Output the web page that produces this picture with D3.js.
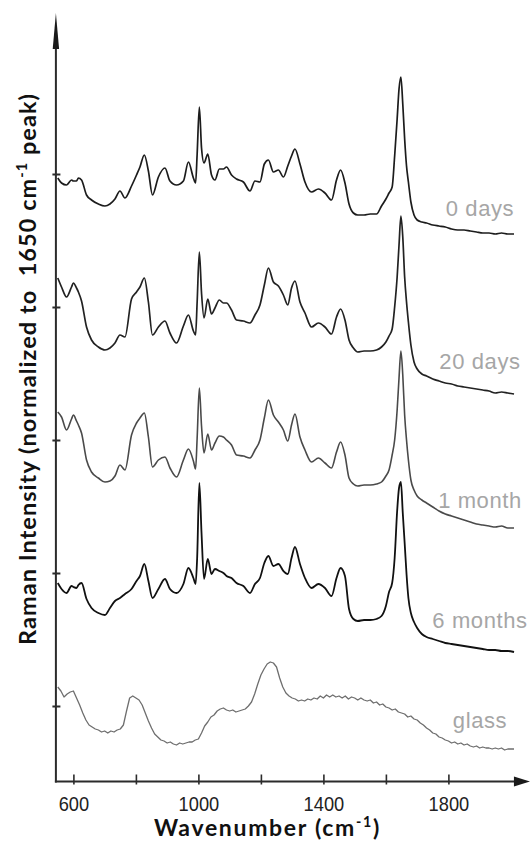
<!DOCTYPE html>
<html>
<head>
<meta charset="utf-8">
<script src="https://cdn.jsdelivr.net/npm/d3@7"></script>
<style>
  body { margin: 0; background: #fff; }
  svg { display: block; }
  text { white-space: pre; }
</style>
</head>
<body>
<svg id="chart" width="531" height="841"></svg>
<script>
// Raman shift sampling (cm-1) shared by the four tissue spectra
const wavenumbers = [
  550, 562, 578, 594, 600, 610, 616, 626, 642, 658,
  680, 701, 717, 733, 749, 765, 786, 802, 813, 827,
  840, 853, 872, 893, 909, 930, 952, 968, 984, 991,
  996, 1003, 1010, 1018, 1030, 1042, 1053, 1067, 1080, 1090,
  1106, 1122, 1144, 1165, 1181, 1197, 1211, 1224, 1240, 1256,
  1272, 1286, 1298, 1309, 1325, 1341, 1362, 1384, 1405, 1426,
  1442, 1455, 1469, 1482, 1496, 1510, 1530, 1550, 1570, 1586,
  1600, 1610, 1620, 1628, 1636, 1642, 1648, 1654, 1660, 1666,
  1672, 1680, 1690, 1700, 1715, 1730, 1750, 1770, 1790, 1810,
  1830, 1850, 1870, 1890, 1910, 1930, 1950, 1970, 1990, 2010
];

// Normalized intensities (relative to each spectrum's own baseline tick)
const days0 = [
  -0.04, -0.09, -0.11, -0.06, -0.07, -0.07, -0.04, -0.06, -0.21, -0.26,
  -0.30, -0.32, -0.30, -0.25, -0.17, -0.24, -0.12, -0.01, 0.07, 0.19,
  0.03, -0.21, -0.03, 0.06, -0.07, -0.11, -0.07, 0.12, -0.04, -0.09,
  0.20, 0.67, 0.26, 0.11, 0.20, -0.01, -0.06, 0.05, 0.05, 0.07,
  -0.01, -0.05, -0.08, -0.17, -0.07, -0.08, 0.10, 0.14, 0.02, 0.04,
  -0.03, 0.08, 0.18, 0.25, 0.10, -0.08, -0.18, -0.15, -0.19, -0.26,
  -0.06, 0.04, -0.09, -0.30, -0.39, -0.41, -0.41, -0.40, -0.40, -0.32,
  -0.25, -0.19, -0.13, 0.18, 0.55, 0.85, 0.97, 0.70, 0.35, 0.08,
  -0.08, -0.28, -0.41, -0.46, -0.48, -0.49, -0.51, -0.52, -0.53, -0.55,
  -0.56, -0.56, -0.57, -0.58, -0.59, -0.59, -0.60, -0.59, -0.60, -0.60
];

const days20 = [
  0.29, 0.20, 0.10, 0.20, 0.24, 0.19, 0.15, 0.06, -0.20, -0.33,
  -0.40, -0.43, -0.41, -0.36, -0.28, -0.30, 0.08, 0.15, 0.20, 0.29,
  0.05, -0.28, -0.20, -0.14, -0.26, -0.36, -0.19, -0.08, -0.24, -0.28,
  0.05, 0.55, 0.14, -0.11, 0.08, -0.07, -0.01, 0.07, 0.04, 0.04,
  -0.03, -0.13, -0.14, -0.16, -0.08, 0.02, 0.22, 0.39, 0.25, 0.21,
  0.12, 0.02, 0.19, 0.26, 0.05, -0.06, -0.20, -0.16, -0.20, -0.27,
  -0.10, -0.02, -0.13, -0.33, -0.41, -0.45, -0.44, -0.44, -0.43, -0.40,
  -0.35, -0.29, -0.22, 0.00, 0.30, 0.62, 0.91, 0.70, 0.30, 0.05,
  -0.15, -0.38, -0.55, -0.62, -0.67, -0.69, -0.72, -0.74, -0.76, -0.77,
  -0.79, -0.80, -0.81, -0.82, -0.83, -0.84, -0.86, -0.85, -0.86, -0.87
];

const month1 = [
  0.28, 0.23, 0.10, 0.21, 0.25, 0.19, 0.15, 0.07, -0.20, -0.32,
  -0.38, -0.42, -0.41, -0.36, -0.25, -0.30, 0.05, 0.17, 0.22, 0.27,
  0.03, -0.27, -0.20, -0.17, -0.28, -0.37, -0.20, -0.09, -0.21, -0.29,
  0.02, 0.52, 0.14, -0.13, 0.06, -0.10, -0.03, 0.04, 0.03, 0.00,
  -0.05, -0.15, -0.16, -0.18, -0.10, 0.00, 0.22, 0.40, 0.25, 0.18,
  0.10, -0.01, 0.15, 0.26, 0.03, -0.10, -0.22, -0.18, -0.23, -0.28,
  -0.12, -0.02, -0.15, -0.38, -0.44, -0.46, -0.45, -0.45, -0.44, -0.42,
  -0.36, -0.30, -0.15, 0.00, 0.30, 0.62, 0.89, 0.65, 0.25, 0.00,
  -0.20, -0.40, -0.50, -0.56, -0.60, -0.63, -0.67, -0.71, -0.74, -0.76,
  -0.78, -0.80, -0.82, -0.84, -0.85, -0.86, -0.87, -0.86, -0.88, -0.88
];

const months6 = [
  -0.10, -0.16, -0.20, -0.13, -0.14, -0.15, -0.12, -0.10, -0.26, -0.35,
  -0.40, -0.42, -0.35, -0.28, -0.25, -0.21, -0.16, -0.08, -0.03, 0.09,
  -0.08, -0.25, -0.16, -0.06, -0.16, -0.20, -0.11, 0.05, -0.05, -0.11,
  0.15, 0.90, 0.40, -0.06, 0.14, -0.01, 0.04, 0.02, 0.00, -0.03,
  -0.05, -0.10, -0.13, -0.20, -0.11, -0.05, 0.10, 0.17, 0.07, 0.09,
  0.02, -0.01, 0.15, 0.26, 0.09, -0.05, -0.15, -0.11, -0.15, -0.23,
  -0.05, 0.05, -0.03, -0.36, -0.46, -0.48, -0.47, -0.47, -0.46, -0.43,
  -0.33, -0.19, -0.10, 0.15, 0.62, 0.85, 0.91, 0.60, 0.30, -0.01,
  -0.25, -0.40, -0.49, -0.55, -0.61, -0.64, -0.66, -0.68, -0.70, -0.71,
  -0.72, -0.73, -0.74, -0.75, -0.76, -0.77, -0.77, -0.78, -0.78, -0.79
];

// Glass substrate background, sampled every 10 cm-1
const glassWavenumbers = [
  550, 560, 570, 580, 590, 600, 610, 620, 630, 640,
  650, 660, 670, 680, 690, 700, 710, 720, 730, 740,
  750, 760, 770, 780, 790, 800, 810, 820, 830, 840,
  850, 860, 870, 880, 890, 900, 910, 920, 930, 940,
  950, 960, 970, 980, 990, 1000, 1010, 1020, 1030, 1040,
  1050, 1060, 1070, 1080, 1090, 1100, 1110, 1120, 1130, 1140,
  1150, 1160, 1170, 1180, 1190, 1200, 1210, 1220, 1230, 1240,
  1250, 1260, 1270, 1280, 1290, 1300, 1310, 1320, 1330, 1340,
  1350, 1360, 1370, 1380, 1390, 1400, 1410, 1420, 1430, 1440,
  1450, 1460, 1470, 1480, 1490, 1500, 1510, 1520, 1530, 1540,
  1550, 1560, 1570, 1580, 1590, 1600, 1610, 1620, 1630, 1640,
  1650, 1660, 1670, 1680, 1690, 1700, 1710, 1720, 1730, 1740,
  1750, 1760, 1770, 1780, 1790, 1800, 1810, 1820, 1830, 1840,
  1850, 1860, 1870, 1880, 1890, 1900, 1910, 1920, 1930, 1940,
  1950, 1960, 1970, 1980, 1990, 2000, 2010
];

const glass = [
  0.19, 0.15, 0.09, 0.12, 0.14, 0.15, 0.08, 0.01, -0.07, -0.14,
  -0.19, -0.21, -0.23, -0.24, -0.26, -0.25, -0.27, -0.25, -0.26, -0.24,
  -0.23, -0.19, -0.05, 0.08, 0.10, 0.08, 0.06, 0.01, -0.07, -0.15,
  -0.22, -0.28, -0.31, -0.34, -0.35, -0.37, -0.36, -0.38, -0.39, -0.37,
  -0.38, -0.37, -0.36, -0.36, -0.34, -0.33, -0.27, -0.20, -0.16, -0.11,
  -0.09, -0.05, -0.03, -0.02, -0.04, -0.05, -0.04, -0.06, -0.05, -0.04,
  -0.03, 0.00, 0.04, 0.12, 0.22, 0.31, 0.37, 0.42, 0.44, 0.43,
  0.39, 0.28, 0.19, 0.13, 0.10, 0.08, 0.07, 0.05, 0.06, 0.05,
  0.07, 0.06, 0.08, 0.07, 0.10, 0.08, 0.11, 0.09, 0.11, 0.09,
  0.10, 0.08, 0.10, 0.07, 0.09, 0.08, 0.06, 0.08, 0.06, 0.05,
  0.06, 0.03, 0.04, 0.01, 0.02, -0.01, -0.02, -0.04, -0.03, -0.06,
  -0.07, -0.08, -0.11, -0.10, -0.13, -0.14, -0.17, -0.19, -0.22, -0.24,
  -0.27, -0.28, -0.31, -0.32, -0.34, -0.35, -0.37, -0.36, -0.38, -0.37,
  -0.39, -0.38, -0.40, -0.41, -0.40, -0.42, -0.41, -0.42, -0.42, -0.43,
  -0.42, -0.43, -0.42, -0.44, -0.43, -0.43, -0.43
];

const sampleLabels = ["0 days", "20 days", "1 month", "6 months", "glass"];
const stackOffsets = [5.32, 3.99, 2.66, 1.33, 0];
const xTickValues = [600, 800, 1000, 1200, 1400, 1600, 1800];
const xTickLabels = [600, 1000, 1400, 1800];

const spectra = [
  { name: sampleLabels[0], wn: wavenumbers, values: days0,   offset: stackOffsets[0], color: "#1c1c1c", width: 1.7, curve: d3.curveMonotoneX },
  { name: sampleLabels[1], wn: wavenumbers, values: days20,  offset: stackOffsets[1], color: "#222222", width: 1.7, curve: d3.curveMonotoneX },
  { name: sampleLabels[2], wn: wavenumbers, values: month1,  offset: stackOffsets[2], color: "#4a4a4a", width: 1.6, curve: d3.curveMonotoneX },
  { name: sampleLabels[3], wn: wavenumbers, values: months6, offset: stackOffsets[3], color: "#111111", width: 1.8, curve: d3.curveMonotoneX },
  { name: sampleLabels[4], wn: glassWavenumbers, values: glass, offset: stackOffsets[4], color: "#6e6e6e", width: 1.3, curve: d3.curveLinear }
];

const svg = d3.select("#chart");

const x = d3.scaleLinear().domain([600, 1800]).range([73.4, 448.4]);
const y = d3.scaleLinear().domain([-0.755, 6.93]).range([781.5, 13]);

const axisY = y(-0.755);
const axisX = x(544);
const axisColor = "#2b2b2b";

// stacked spectra
svg.append("g").attr("class", "spectra")
  .selectAll("path")
  .data(spectra)
  .join("path")
  .attr("fill", "none")
  .attr("stroke", d => d.color)
  .attr("stroke-width", d => d.width)
  .attr("stroke-linejoin", "round")
  .attr("d", d => d3.line()
    .x(p => x(p[0]))
    .y(p => y(p[1]))
    .curve(d.curve)(d.wn.map((w, i) => [w, d.values[i] + d.offset])));

// axis lines with arrowheads
const yTop = y(6.93);
const xEnd = x(2061);
svg.append("line")
  .attr("x1", axisX).attr("x2", axisX)
  .attr("y1", axisY + 1).attr("y2", yTop + 20)
  .attr("stroke", axisColor).attr("stroke-width", 2);
svg.append("path")
  .attr("d", `M${axisX},${yTop} L${axisX + 3.2},${yTop + 36} L${axisX - 3.2},${yTop + 36} Z`)
  .attr("fill", "#1a1a1a");
svg.append("line")
  .attr("x1", axisX - 1).attr("x2", xEnd - 10)
  .attr("y1", axisY).attr("y2", axisY)
  .attr("stroke", axisColor).attr("stroke-width", 2);
svg.append("path")
  .attr("d", `M${xEnd},${axisY} L${xEnd - 16},${axisY - 5} L${xEnd - 16},${axisY + 5} Z`)
  .attr("fill", "#1a1a1a");

// x ticks and labels
const xAxis = d3.axisBottom(x)
  .tickValues(xTickValues)
  .tickSize(-10)
  .tickPadding(12)
  .tickFormat(d => String(d));
const gx = svg.append("g")
  .attr("transform", `translate(0,${axisY + 3})`)
  .call(xAxis);
gx.select(".domain").remove();
gx.selectAll(".tick line").attr("stroke", axisColor).attr("stroke-width", 1.6);
gx.selectAll(".tick").filter(d => !xTickLabels.includes(d)).select("text").remove();
gx.selectAll(".tick text")
  .attr("font-family", "'Liberation Sans', Arial, sans-serif")
  .attr("font-size", 20)
  .attr("fill", "#222")
  .attr("textLength", d => String(d).length * 10.15)
  .attr("lengthAdjust", "spacingAndGlyphs");

// y ticks at each spectrum baseline
const yAxis = d3.axisLeft(y)
  .tickValues(stackOffsets)
  .tickSize(8)
  .tickFormat("");
const gy = svg.append("g")
  .attr("transform", `translate(${axisX + 4.5},0)`)
  .call(yAxis);
gy.select(".domain").remove();
gy.selectAll(".tick text").remove();
gy.selectAll(".tick line").attr("stroke", axisColor).attr("stroke-width", 2);

// sample labels
const labelBaselines = [216, 369, 508.3, 628.3, 728.3];
svg.append("g")
  .selectAll("text")
  .data(sampleLabels)
  .join("text")
  .attr("x", 480)
  .attr("y", (d, i) => labelBaselines[i])
  .attr("text-anchor", "middle")
  .attr("font-family", "'Liberation Sans', Arial, sans-serif")
  .attr("font-size", 22)
  .attr("letter-spacing", 0.6)
  .attr("fill", "#a6a6a6")
  .text(d => d);

// axis titles with superscript; letter spacing tuned to the wanted run length
function spreadTo(sel, target) {
  const len = sel.node().getComputedTextLength();
  const chars = sel.text().length;
  sel.attr("letter-spacing", (target - len) / chars);
}

const xTitle = svg.append("text")
  .attr("x", 267.4)
  .attr("y", 836)
  .attr("text-anchor", "middle")
  .attr("font-family", "Lato, 'Open Sans', sans-serif")
  .attr("font-weight", 700)
  .attr("font-size", 23)
  .attr("fill", "#111");
xTitle.append("tspan").text("Wavenumber (cm");
xTitle.append("tspan").attr("font-size", "0.62em").attr("dy", "-0.6em").text("-1");
xTitle.append("tspan").attr("dy", "0.372em").text(")");
spreadTo(xTitle, 227);

const yTitle = svg.append("text")
  .attr("transform", "translate(36,369) rotate(-90)")
  .attr("text-anchor", "middle")
  .attr("font-family", "Lato, 'Open Sans', sans-serif")
  .attr("font-weight", 700)
  .attr("font-size", 23.5)
  .attr("fill", "#111");
yTitle.append("tspan").text("Raman Intensity (normalized to  1650 cm");
yTitle.append("tspan").attr("font-size", "0.62em").attr("dy", "-0.6em").text("-1");
yTitle.append("tspan").attr("dy", "0.372em").text(" peak)");
spreadTo(yTitle, 552);
</script>
</body>
</html>
